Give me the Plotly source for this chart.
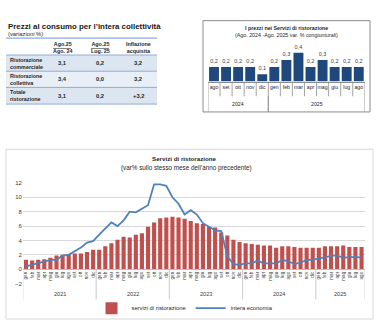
import plotly.graph_objects as go

W, H = 380, 323
FONT = "Liberation Sans"


def X(px):
    return px / W


def Y(py):
    return 1 - py / H


# ---- table: prezzi al consumo ----
righe = ["Ristorazione<br>commerciale", "Ristorazione<br>collettiva", "Totale<br>ristorazione"]
var_annua = [3.1, 3.4, 3.1]
var_congiunturale = [0.2, 0.0, 0.2]
inflazione_acquisita = [3.2, 3.2, 3.2]
intestazioni = [("Ago.25", "Ago. 24"), ("Ago.25", "Lug. 25"), ("Inflazione", "acquisita")]

# ---- small chart: monthly changes Ago.2024 - Ago.2025 ----
mesi_breve = ["ago", "set", "ott", "nov", "dic", "gen", "feb", "mar", "apr", "mag", "giu", "lug", "ago"]
anni_breve = [("2024", 0, 4), ("2025", 5, 12)]
congiunturali = [0.2, 0.2, 0.2, 0.2, 0.1, 0.2, 0.3, 0.4, 0.2, 0.3, 0.2, 0.2, 0.2]

# ---- main chart: year-on-year changes 2021 - 2025 ----
mesi = ["gen", "feb", "mar", "apr", "mag", "giu", "lug", "ago", "set", "ott", "nov", "dic"]
anni = ["2021", "2022", "2023", "2024", "2025"]
servizi_ristorazione = [
    1.3, 1.2, 1.3, 1.4, 1.6, 1.9, 2.0, 2.1, 2.2, 2.2, 2.4, 2.7,
    2.7, 3.2, 3.6, 4.1, 4.5, 4.4, 4.8, 5.0, 5.9, 6.5, 7.1, 7.2,
    7.3, 7.2, 7.0, 6.7, 6.4, 6.3, 5.9, 5.8, 5.1, 4.7, 4.1, 3.8,
    3.6, 3.5, 3.4, 3.3, 3.3, 3.0, 3.2, 3.2, 3.1, 3.0, 3.0, 3.0,
    3.0, 3.2, 3.2, 3.2, 3.3, 3.1, 3.1, 3.1,
]
intera_economia = [
    0.4, 0.6, 0.8, 1.1, 1.3, 1.3, 1.9, 2.0, 2.5, 3.0, 3.7, 3.9,
    4.8, 5.7, 6.5, 6.0, 6.8, 8.0, 7.9, 8.4, 8.9, 11.8, 11.8, 11.6,
    10.0, 9.1, 7.6, 8.2, 7.6, 6.4, 5.9, 5.4, 5.3, 1.8, 0.7, 0.6,
    0.8, 0.8, 1.2, 0.8, 0.8, 0.8, 1.3, 1.1, 0.7, 0.9, 1.3, 1.3,
    1.5, 1.6, 1.9, 1.9, 1.6, 1.7, 1.7, 1.6,
]

n = len(servizi_ristorazione)
idx = list(range(n))
etichette_mesi = [mesi[i % 12] for i in idx]


def fmt(v, segno=False):
    s = f"{v:.1f}".replace(".", ",")
    return ("+" + s) if segno else s


fig = go.Figure()

# main chart traces
fig.add_trace(go.Bar(
    x=idx, y=servizi_ristorazione, name="servizi di ristorazione",
    marker=dict(color="#c0504d", line=dict(width=0)), width=0.68,
    xaxis="x", yaxis="y",
))
fig.add_trace(go.Scatter(
    x=idx, y=intera_economia, name="intera economia", mode="lines",
    line=dict(color="#4f81bd", width=1.8), xaxis="x", yaxis="y3",
))

# small chart trace
idx2 = list(range(len(congiunturali)))
fig.add_trace(go.Bar(
    x=idx2, y=congiunturali, xaxis="x2", yaxis="y2", showlegend=False,
    marker=dict(color="#1f497d", line=dict(width=0)), width=0.82,
    text=[fmt(v) for v in congiunturali], textposition="outside",
    textfont=dict(size=5.5, color="#404040", family=FONT), cliponaxis=False,
))

shapes = []
ann = []

# ---------- table ----------
ann.append(dict(x=X(6), y=Y(24), xref="paper", yref="paper", xanchor="left", yanchor="middle",
                text="<b>Prezzi al consumo per l’intera collettività</b>", showarrow=False,
                font=dict(size=7.9, color="#1a1a1a", family=FONT)))
ann.append(dict(x=X(6), y=Y(31.5), xref="paper", yref="paper", xanchor="left", yanchor="middle",
                text="(variazioni %)", showarrow=False,
                font=dict(size=5.8, color="#262626", family=FONT)))

tab_x0, tab_x1 = 6, 157
col_x = [62, 100, 138]
row_bounds = [53, 69.5, 86, 103]
row_fill = ["#dce6f1", "#e9eff7", "#dce6f1"]
for r in range(3):
    shapes.append(dict(type="rect", xref="paper", yref="paper", layer="below",
                       x0=X(tab_x0), x1=X(tab_x1), y0=Y(row_bounds[r + 1]), y1=Y(row_bounds[r]),
                       fillcolor=row_fill[r], line=dict(width=0)))
for yb in [35.7] + row_bounds:
    shapes.append(dict(type="line", xref="paper", yref="paper",
                       x0=X(tab_x0), x1=X(tab_x1), y0=Y(yb), y1=Y(yb),
                       line=dict(color="#8eaadb", width=1.3 if yb == 35.7 else 1)))

for c, (a, b) in enumerate(intestazioni):
    ann.append(dict(x=X(col_x[c]), y=Y(45.5), xref="paper", yref="paper", xanchor="center", yanchor="middle",
                    text=f"<b>{a}<br>{b}</b>", showarrow=False,
                    font=dict(size=5.4, color="#262626", family=FONT)))
    if c < 2:
        shapes.append(dict(type="line", xref="paper", yref="paper",
                           x0=X(col_x[c] - 9), x1=X(col_x[c] + 9), y0=Y(46.3), y1=Y(46.3),
                           line=dict(color="#262626", width=0.6)))

for r in range(3):
    yc = (row_bounds[r] + row_bounds[r + 1]) / 2
    ann.append(dict(x=X(8), y=Y(yc), xref="paper", yref="paper", xanchor="left", yanchor="middle",
                    text=f"<b>{righe[r]}</b>", showarrow=False, align="left",
                    font=dict(size=5.4, color="#262626", family=FONT)))
    valori = [fmt(var_annua[r]), fmt(var_congiunturale[r]), fmt(inflazione_acquisita[r], segno=(r == 2))]
    for c, v in enumerate(valori):
        ann.append(dict(x=X(col_x[c]), y=Y(yc), xref="paper", yref="paper", xanchor="center", yanchor="middle",
                        text=f"<b>{v}</b>", showarrow=False,
                        font=dict(size=5.8, color="#262626", family=FONT)))

# ---------- small chart ----------
shapes.append(dict(type="rect", xref="paper", yref="paper", x0=X(203), x1=X(370), y0=Y(111), y1=Y(18),
                   line=dict(color="#8c8c8c", width=1), fillcolor="rgba(0,0,0,0)"))
ann.append(dict(x=X(286.5), y=Y(25), xref="paper", yref="paper", xanchor="center", yanchor="middle",
                text="<b>I prezzi nei Servizi di ristorazione</b>", showarrow=False,
                font=dict(size=5.3, color="#262626", family=FONT)))
ann.append(dict(x=X(286.5), y=Y(32.5), xref="paper", yref="paper", xanchor="center", yanchor="middle",
                text="(Ago. 2024 -Ago. 2025 var. % congiunturali)", showarrow=False,
                font=dict(size=5.3, color="#262626", family=FONT)))
for k in range(len(congiunturali) + 1):
    shapes.append(dict(type="line", xref="x2", yref="paper", x0=k - 0.5, x1=k - 0.5, y0=Y(80), y1=Y(95),
                       line=dict(color="#8c8c8c", width=0.8)))
for nome, i0, i1 in anni_breve:
    ann.append(dict(x=(i0 + i1) / 2, y=Y(103), xref="x2", yref="paper", xanchor="center", yanchor="middle",
                    text=nome, showarrow=False, font=dict(size=5.2, color="#262626", family=FONT)))
    for xb in (i0 - 0.5, i1 + 0.5):
        shapes.append(dict(type="line", xref="x2", yref="paper", x0=xb, x1=xb, y0=Y(95), y1=Y(111),
                           line=dict(color="#8c8c8c", width=0.8)))

# ---------- main chart ----------
shapes.append(dict(type="rect", xref="paper", yref="paper", x0=X(6), x1=X(373), y0=Y(322), y1=Y(149),
                   line=dict(color="#d9d9d9", width=1), fillcolor="rgba(0,0,0,0)"))
ann.append(dict(x=X(184), y=Y(158.5), xref="paper", yref="paper", xanchor="center", yanchor="middle",
                text="<b>Servizi di ristorazione</b>", showarrow=False,
                font=dict(size=6.2, color="#262626", family=FONT)))
ann.append(dict(x=X(186), y=Y(168), xref="paper", yref="paper", xanchor="center", yanchor="middle",
                text="(var% sullo stesso mese dell’anno precedente)", showarrow=False,
                font=dict(size=6.3, color="#262626", family=FONT)))
for a, nome in enumerate(anni):
    i0 = a * 12
    i1 = min(a * 12 + 11, n - 1)
    ann.append(dict(x=(i0 + i1) / 2, y=Y(296), xref="x", yref="paper", xanchor="center", yanchor="middle",
                    text=nome, showarrow=False, font=dict(size=5.6, color="#404040", family=FONT)))
    for xb in (i0 - 0.5, i1 + 0.5):
        shapes.append(dict(type="line", xref="x", yref="paper", x0=xb, x1=xb, y0=Y(272), y1=Y(302),
                           line=dict(color="#d0d0d0", width=0.8)))

y_dom = [Y(285.9), Y(183.3)]
fig.update_layout(
    width=W, height=H, margin=dict(l=0, r=0, t=0, b=0),
    paper_bgcolor="white", plot_bgcolor="rgba(0,0,0,0)",
    font=dict(family=FONT, color="#404040"),
    showlegend=True,
    legend=dict(orientation="h", x=X(185), xanchor="center", y=Y(311), yanchor="middle",
                font=dict(size=5.8, color="#262626", family=FONT), bgcolor="rgba(0,0,0,0)",
                itemwidth=30),
    xaxis=dict(domain=[X(22.95), X(364.6)], range=[-0.5, n - 0.5], anchor="free", position=Y(271),
               tickmode="array", tickvals=idx, ticktext=etichette_mesi, tickangle=-90,
               tickfont=dict(size=4.6, color="#404040"), showline=True, linecolor="#bfbfbf",
               linewidth=1, showgrid=False, zeroline=False, ticks=""),
    yaxis=dict(domain=y_dom, range=[-2, 12], tickmode="array", tickvals=list(range(-2, 13, 2)),
               tickfont=dict(size=6, color="#404040"), showgrid=False, zeroline=False,
               showline=False, ticks=""),
    yaxis3=dict(overlaying="y", range=[-2, 12], tickmode="array", tickvals=list(range(2, 13, 2)),
                showticklabels=False, showgrid=True, gridcolor="#d9d9d9", gridwidth=1,
                zeroline=False, showline=False, ticks=""),
    xaxis2=dict(domain=[X(207.97), X(364.8)], range=[-0.5, len(congiunturali) - 0.5], anchor="y2",
                tickmode="array", tickvals=idx2, ticktext=mesi_breve, tickangle=0,
                tickfont=dict(size=5.2, color="#262626"), showline=True, linecolor="#8c8c8c",
                linewidth=1, showgrid=False, zeroline=False, ticks=""),
    yaxis2=dict(domain=[Y(80), Y(43.35)], range=[0, 0.5], visible=False),
    shapes=shapes, annotations=ann,
)

fig.write_html("out.html")
